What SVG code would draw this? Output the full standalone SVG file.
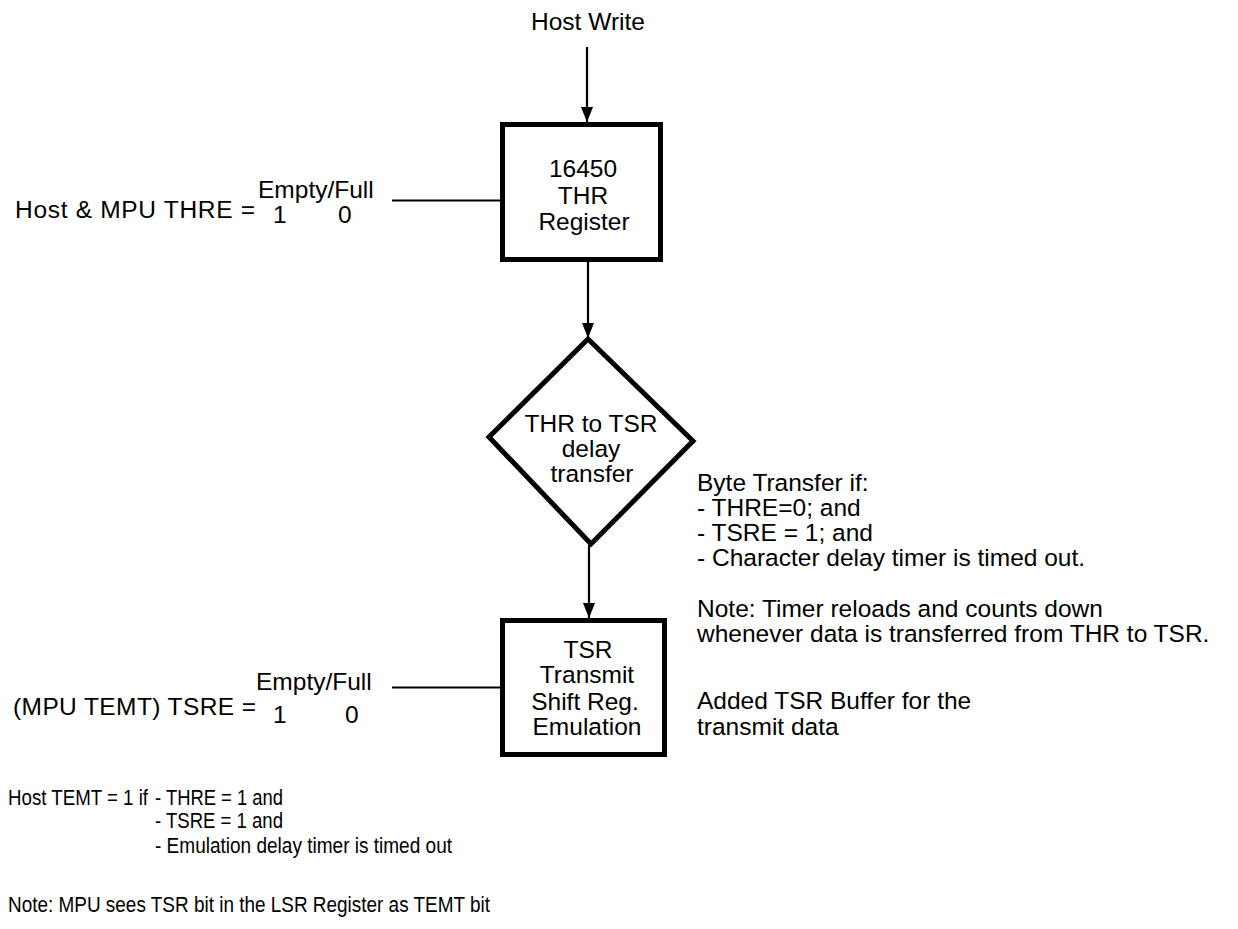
<svg xmlns="http://www.w3.org/2000/svg" width="1238" height="929" viewBox="0 0 1238 929">
  <style>
    text { font-family: "Liberation Sans", Arial, sans-serif; font-size: 24.5px; fill: #000; }
    .c { text-anchor: middle; }
    .box { fill: #fff; stroke: #000; stroke-width: 5; }
    .conn { stroke: #000; stroke-width: 2.2; fill: none; }
    .arrow { marker-end: url(#ah); }
    .small { font-size: 21.5px; }
  </style>
  <defs>
    <marker id="ah" viewBox="0 0 15 12" refX="15" refY="6" markerWidth="15" markerHeight="12" markerUnits="userSpaceOnUse" orient="auto">
      <path d="M0,0 L15,6 L0,12 z" fill="#000"/>
    </marker>
  </defs>
  <rect width="1238" height="929" fill="#fff"/>

  <g id="connectors">
    <line class="conn arrow" x1="587" y1="47" x2="587" y2="122"/>
    <line class="conn arrow" x1="588" y1="262" x2="588" y2="338"/>
    <line class="conn arrow" x1="589" y1="545" x2="589" y2="618"/>
    <line class="conn" x1="392" y1="200.5" x2="501" y2="200.5"/>
    <line class="conn" x1="392" y1="687.5" x2="501" y2="687.5"/>
  </g>

  <g id="host-write">
    <text class="c" x="588" y="30">Host Write</text>
  </g>

  <g id="thr-register">
    <rect class="box" x="502.5" y="124.5" width="158" height="135"/>
    <text class="c" x="583" y="177">16450</text>
    <text class="c" x="583" y="204">THR</text>
    <text class="c" x="584" y="230">Register</text>
  </g>

  <g id="thr-status">
    <text x="258" y="198">Empty/Full</text>
    <text x="15" y="218" textLength="240" lengthAdjust="spacing">Host &amp; MPU THRE =</text>
    <text x="273" y="223">1</text>
    <text x="338" y="223">0</text>
  </g>

  <g id="delay-transfer">
    <polygon class="box" points="588,339 693,441 591,544 489,437" stroke-linejoin="miter"/>
    <text class="c" x="591" y="432">THR to TSR</text>
    <text class="c" x="591" y="457">delay</text>
    <text class="c" x="592" y="482">transfer</text>
  </g>

  <g id="tsr-register">
    <rect class="box" x="502.5" y="620.5" width="162" height="134"/>
    <text class="c" x="588" y="658">TSR</text>
    <text class="c" x="587" y="683">Transmit</text>
    <text class="c" x="585" y="710">Shift Reg.</text>
    <text class="c" x="587" y="735">Emulation</text>
  </g>

  <g id="tsr-status">
    <text x="256" y="690">Empty/Full</text>
    <text x="13" y="715" textLength="243" lengthAdjust="spacing">(MPU TEMT) TSRE =</text>
    <text x="273" y="723">1</text>
    <text x="345" y="723">0</text>
  </g>

  <g id="transfer-notes">
    <text x="697" y="491">Byte Transfer if:</text>
    <text x="697" y="516">- THRE=0; and</text>
    <text x="697" y="541">- TSRE = 1; and</text>
    <text x="697" y="566">- Character delay timer is timed out.</text>
    <text x="697" y="617">Note: Timer reloads and counts down</text>
    <text x="697" y="642">whenever data is transferred from THR to TSR.</text>
    <text x="697" y="709">Added TSR Buffer for the</text>
    <text x="697" y="735">transmit data</text>
  </g>

  <g id="temt-notes">
    <text class="small" x="8" y="805" textLength="140" lengthAdjust="spacingAndGlyphs">Host TEMT = 1 if</text>
    <text class="small" x="155" y="805" textLength="128" lengthAdjust="spacingAndGlyphs">- THRE = 1 and</text>
    <text class="small" x="155" y="828" textLength="128" lengthAdjust="spacingAndGlyphs">- TSRE = 1 and</text>
    <text class="small" x="155" y="853" textLength="297" lengthAdjust="spacingAndGlyphs">- Emulation delay timer is timed out</text>
    <text class="small" x="8" y="912" textLength="482" lengthAdjust="spacingAndGlyphs">Note: MPU sees TSR bit in the LSR Register as TEMT bit</text>
  </g>
</svg>
